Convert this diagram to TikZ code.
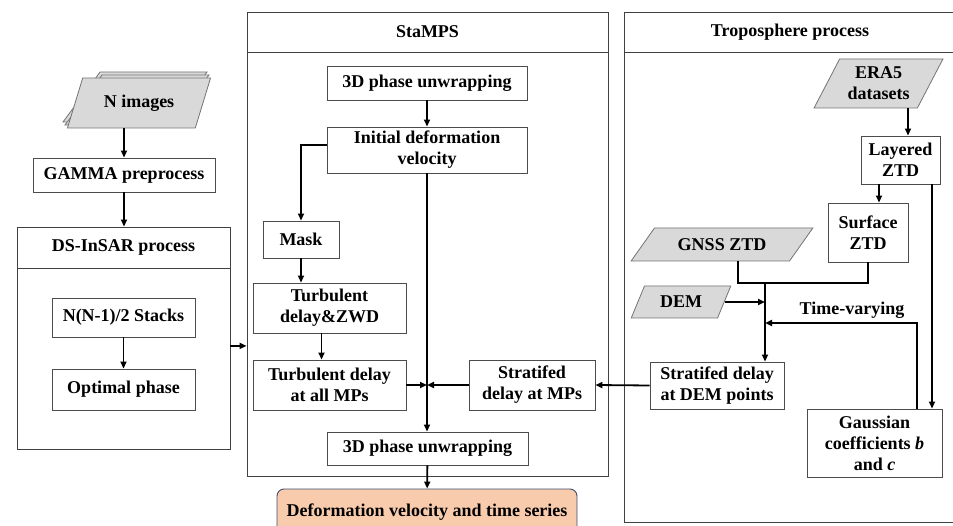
\documentclass[tikz,border=0pt]{standalone}
\usepackage{fontspec}
\setmainfont{Liberation Serif}
\usetikzlibrary{positioning, arrows.meta, shapes.geometric}
\definecolor{peach}{RGB}{248,203,173}
\definecolor{slateline}{RGB}{62,80,108}
\definecolor{datagray}{RGB}{217,217,217}

\begin{document}
\begin{tikzpicture}[x=1pt, y=-1pt,
    font=\fontsize{18}{21}\selectfont\bfseries,
    box/.style={draw=black!70, line width=0.9pt, fill=white, align=center, inner sep=2pt},
    panel/.style={draw=black!75, line width=0.9pt, inner sep=0pt},
    datain/.style={trapezium, trapezium stretches=true, draw=black!55, line width=0.8pt,
        fill=datagray, align=center, inner sep=1pt},
    result/.style={draw=slateline, line width=0.9pt, rounded corners=7pt, fill=peach},
    arr/.style={line width=1.8pt, -{Triangle[length=7pt,width=6pt]}},
    link/.style={line width=1.8pt}]
    \useasboundingbox (0,0) rectangle (953,526);
    \clip (0,0) rectangle (953,526);

    % colonna sinistra
    \node[datain, trapezium left angle=62, trapezium right angle=118,
        minimum width=144pt, minimum height=50pt] (nimgc) at (135,97) {};
    \node[datain, trapezium left angle=62, trapezium right angle=118,
        minimum width=144pt, minimum height=50pt] (nimgb) at (137,100) {};
    \node[datain, trapezium left angle=62, trapezium right angle=118,
        minimum width=144pt, minimum height=50pt] (nimg) at (139,103) {N images};
    \node[box, minimum width=182pt, minimum height=34pt] (gamma) at (124,175) {GAMMA preprocess};

    \node[panel, minimum width=213pt, minimum height=41pt] (dshead) at (123.5,247.5) {DS-InSAR process};
    \node[panel, minimum width=213pt, minimum height=181pt, below=0pt of dshead] (dsbody) {};
    \node[box, minimum width=143pt, minimum height=39pt] (stacks) at (123.5,317.5) {N(N-1)/2 Stacks};
    \node[box, minimum width=143pt, minimum height=41pt] (optimal) at (123.5,389.5) {Optimal phase};

    % stamps
    \node[panel, minimum width=361pt, minimum height=40pt] (sthead) at (427.5,32) {StaMPS};
    \node[panel, minimum width=361pt, minimum height=424pt, below=0pt of sthead] (stbody) {};
    \node[box, minimum width=200pt, minimum height=34pt] (unwrapA) at (427,83) {3D phase unwrapping};
    \node[box, minimum width=200pt, minimum height=46pt] (initvel) at (427,150) {Initial deformation\\velocity};
    \node[box, minimum width=76pt, minimum height=37pt] (mask) at (301,239.5) {Mask};
    \node[box, minimum width=153pt, minimum height=50pt] (turbzwd) at (329.5,308) {Turbulent\\delay\&ZWD};
    \node[box, minimum width=153pt, minimum height=50pt] (turball) at (329.5,385) {Turbulent delay\\at all MPs};
    \node[box, minimum width=126pt, minimum height=50pt] (stratmp) at (532,385) {Stratifed\\delay at MPs};
    \node[box, minimum width=201pt, minimum height=33pt] (unwrapB) at (427.5,448.5) {3D phase unwrapping};
    \node[result, minimum width=300pt, minimum height=46pt] (defo) at (427,512) {Deformation velocity and time series};

    % troposfera
    \node[panel, minimum width=332pt, minimum height=40pt] (trhead) at (790,32) {Troposphere process};
    \node[panel, minimum width=332pt, minimum height=470pt, below=0pt of trhead] (trbody) {};
    \node[datain, trapezium left angle=59, trapezium right angle=121,
        minimum width=129pt, minimum height=49pt] (era5) at (878.5,83.5) {ERA5\\datasets};
    \node[box, minimum width=79pt, minimum height=48pt] (layered) at (900.5,160) {Layered\\ZTD};
    \node[box, minimum width=80pt, minimum height=59pt] (surface) at (868,232.5) {Surface\\ZTD};
    \node[datain, trapezium left angle=42, trapezium right angle=138,
        minimum width=182pt, minimum height=33pt] (gnss) at (722,244.5) {GNSS ZTD};
    \node[datain, trapezium left angle=60, trapezium right angle=120,
        minimum width=100pt, minimum height=32pt] (dem) at (681,302) {DEM};
    \node[box, minimum width=134pt, minimum height=47pt] (stratdem) at (717,385.5) {Stratifed delay\\at DEM points};
    \node[box, minimum width=135pt, minimum height=68pt] (gauss) at (874.5,443) {Gaussian\\coefficients \textit{b}\\and \textit{c}};
    \node (tvlab) at (852,310) {Time-varying};

    % punti di giunzione
    \coordinate (dsout) at ([yshift=13.5pt]dsbody.east);
    \coordinate (jtop) at (765,283);
    \coordinate (jtv) at (765,323);
    \coordinate (gline) at (738,0);
    \coordinate (era5x) at (908,0);
    \coordinate (lsx) at (879,0);
    \coordinate (lgx) at (932,0);
    \coordinate (ggx) at (917,0);

    % frecce a sinistra
    \draw[arr] (nimg.south -| gamma.north) -- (gamma.north);
    \draw[arr] (gamma.south) -- (gamma.south |- dshead.north);
    \draw[arr] (stacks) -- (optimal);
    \draw[arr] (dsout) -- (dsout -| stbody.west);

    % frecce stamps
    \draw[arr] (unwrapA) -- (initvel);
    \draw[arr] ([yshift=5pt]initvel.west) -| (mask.north);
    \draw[arr] (mask.south) -- (mask.south |- turbzwd.north);
    \draw[arr] ([xshift=-8pt]turbzwd.south) -- ([xshift=-8pt]turball.north);
    \draw[arr] (initvel.south) -- (initvel.south |- unwrapB.north);
    \draw[arr] (turball.east) -- (turball.east -| initvel.south);
    \draw[arr] (stratmp.west) -- (stratmp.west -| initvel.south);
    \draw[arr] (unwrapB) -- (defo);

    % frecce troposfera
    \draw[arr] (era5.south -| era5x) -- (layered.north -| era5x);
    \draw[arr] (layered.south -| lsx) -- (surface.north -| lsx);
    \draw[arr] (layered.south -| lgx) -- (gauss.north -| lgx);
    \draw[link] (gnss.south -| gline) |- (jtop) -| (surface.south);
    \draw[arr] (jtop) -- (jtop |- stratdem.north);
    \draw[arr] (dem.east) -- (dem.east -| jtop);
    \draw[arr] (gauss.north -| ggx) |- (jtv);
    \draw[arr] (stratdem.west) -- (stratmp.east);
\end{tikzpicture}
\end{document}
